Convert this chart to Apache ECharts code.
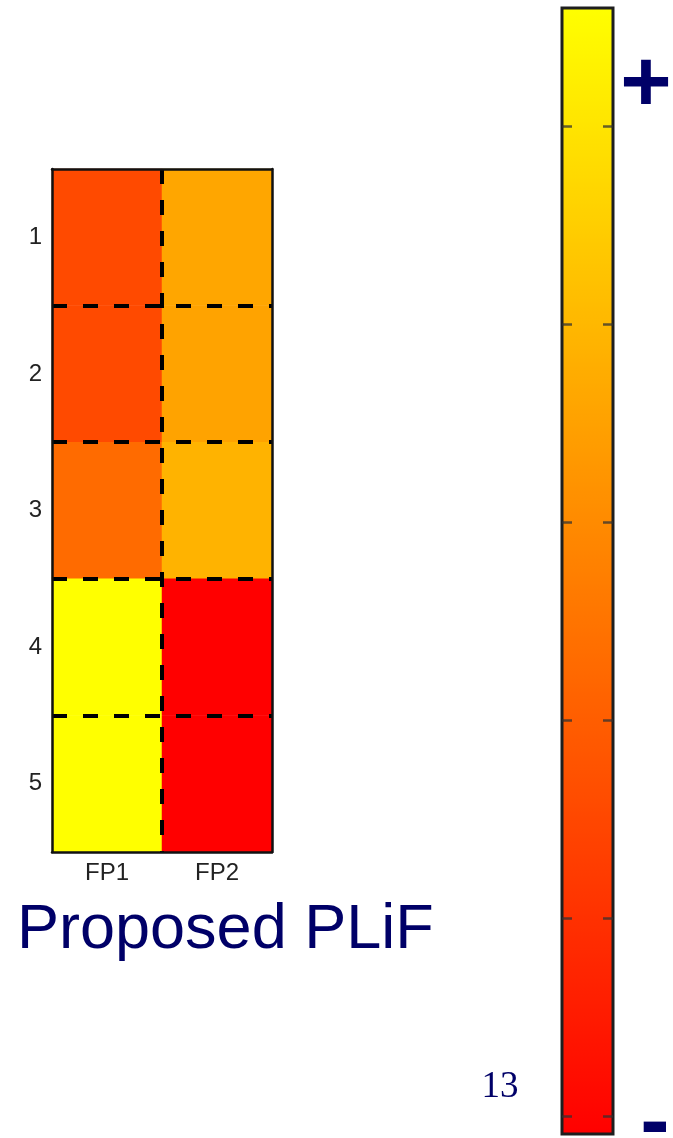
<!DOCTYPE html>
<html>
<head>
<meta charset="utf-8">
<script src="https://cdn.jsdelivr.net/npm/echarts@6/dist/echarts.min.js"></script>
<style>
html,body{margin:0;padding:0;background:#fff;}
#chart{width:673px;height:1138px;}
</style>
</head>
<body>
<div id="chart"></div>
<script>
// ---- data ----
const categories = ['FP1', 'FP2'];
const rows = ['1', '2', '3', '4', '5'];
const fp1Values = [0.29, 0.29, 0.42, 1.0, 1.0];
const fp2Values = [0.65, 0.64, 0.70, 0.0, 0.0];
const rowBoundaries = [1.5, 2.5, 3.5, 4.5];
const colBoundaries = [1.5];
const colorbarTicks = [0, 1, 2, 3, 4, 5];
const titleText = 'Proposed PLiF';
const plusText = '+';
const minusText = '-';
const pageNumber = '13';

const navy = '#000068';
const heatData = [];
rows.forEach((r, i) => {
  heatData.push([0, i, fp1Values[i]]);
  heatData.push([1, i, fp2Values[i]]);
});
const lineData = [];
rowBoundaries.forEach(y => lineData.push({ coords: [[0.5, y], [2.5, y]] }));
colBoundaries.forEach(x => lineData.push({ coords: [[x, 0.5], [x, 5.5]] }));

const chart = echarts.init(document.getElementById('chart'), null, { renderer: 'canvas' });

const axisLineStyle = { color: '#111', width: 2.5 };
const tickStyle = { color: '#333', width: 1.5 };
const labelFont = 'Liberation Sans';

chart.setOption({
  animation: false,
  backgroundColor: '#fff',
  grid: [
    { left: 52, top: 169, width: 220, height: 683, containLabel: false },
    { left: 562, top: 8, width: 51, height: 1126, show: true, z: 10, backgroundColor: 'transparent', borderColor: '#1e1e1e', borderWidth: 3 },
    { left: 562, top: 126, width: 51, height: 990 },
    { left: 52, top: 169, width: 220, height: 683 }
  ],
  xAxis: [
    { type: 'category', gridIndex: 0, data: categories, position: 'bottom', z: 5,
      axisLine: { lineStyle: axisLineStyle },
      axisTick: { inside: true, alignWithLabel: true, length: 4, lineStyle: tickStyle },
      axisLabel: { fontSize: 24, color: '#222', margin: 9, fontFamily: labelFont },
      splitLine: { show: false } },
    { type: 'category', gridIndex: 0, data: categories, position: 'top', z: 5,
      axisLine: { lineStyle: axisLineStyle },
      axisTick: { inside: true, alignWithLabel: true, length: 4, lineStyle: tickStyle },
      axisLabel: { show: false }, splitLine: { show: false } },
    { type: 'value', gridIndex: 1, show: false },
    { type: 'value', gridIndex: 2, show: false },
    { type: 'value', gridIndex: 3, show: false, min: 0.5, max: 2.5 }
  ],
  yAxis: [
    { type: 'category', gridIndex: 0, data: rows, inverse: true, position: 'left', z: 5,
      axisLine: { lineStyle: axisLineStyle },
      axisTick: { inside: true, alignWithLabel: true, length: 4, lineStyle: tickStyle },
      axisLabel: { fontSize: 24, color: '#222', margin: 10, fontFamily: labelFont },
      splitLine: { show: false } },
    { type: 'category', gridIndex: 0, data: rows, inverse: true, position: 'right', z: 5,
      axisLine: { lineStyle: axisLineStyle },
      axisTick: { inside: true, alignWithLabel: true, length: 4, lineStyle: tickStyle },
      axisLabel: { show: false }, splitLine: { show: false } },
    { type: 'value', gridIndex: 1, show: false },
    { type: 'value', gridIndex: 2, position: 'left', min: colorbarTicks[0], max: colorbarTicks[colorbarTicks.length - 1], interval: 1, z: 12,
      axisLine: { show: false },
      axisTick: { inside: true, length: 10, lineStyle: { color: 'rgba(50,50,50,0.75)', width: 2.5 } },
      axisLabel: { show: false }, splitLine: { show: false } },
    { type: 'value', gridIndex: 2, position: 'right', min: colorbarTicks[0], max: colorbarTicks[colorbarTicks.length - 1], interval: 1, z: 12,
      axisLine: { show: false },
      axisTick: { inside: true, length: 10, lineStyle: { color: 'rgba(50,50,50,0.75)', width: 2.5 } },
      axisLabel: { show: false }, splitLine: { show: false } },
    { type: 'value', gridIndex: 3, show: false, min: 0.5, max: 5.5, inverse: true }
  ],
  visualMap: {
    type: 'continuous',
    min: 0, max: 1,
    seriesIndex: 0,
    dimension: 2,
    calculable: false,
    orient: 'vertical',
    left: 562, top: 8,
    itemWidth: 51, itemHeight: 1126,
    padding: 0,
    text: null,
    showLabel: false,
    inRange: { color: ['#ff0000', '#ffff00'] }
  },
  series: [
    { type: 'heatmap', xAxisIndex: 0, yAxisIndex: 0, data: heatData,
      itemStyle: { borderWidth: 0 }, emphasis: { disabled: true }, silent: true, z: 2 },
    { type: 'lines', coordinateSystem: 'cartesian2d', xAxisIndex: 4, yAxisIndex: 5,
      data: lineData, silent: true, z: 3,
      lineStyle: { color: '#000', width: 4, opacity: 1, type: [15, 16], cap: 'butt' } }
  ],
  graphic: [
    { type: 'text', left: 17, top: 899, silent: true,
      style: { text: titleText, font: '63px "Liberation Sans"', fill: navy } },
    { type: 'text', x: 646, y: 87, silent: true,
      style: { text: plusText, font: 'bold 88px "Liberation Sans"', fill: navy, align: 'center', verticalAlign: 'middle' } },
    { type: 'text', x: 655, y: 1125, silent: true,
      style: { text: minusText, font: 'bold 88px "Liberation Sans"', fill: navy, align: 'center', verticalAlign: 'middle' } },
    { type: 'text', x: 500, y: 1087, silent: true,
      style: { text: pageNumber, font: '37px "Liberation Serif"', fill: navy, align: 'center', verticalAlign: 'middle' } }
  ]
});
</script>
</body>
</html>
